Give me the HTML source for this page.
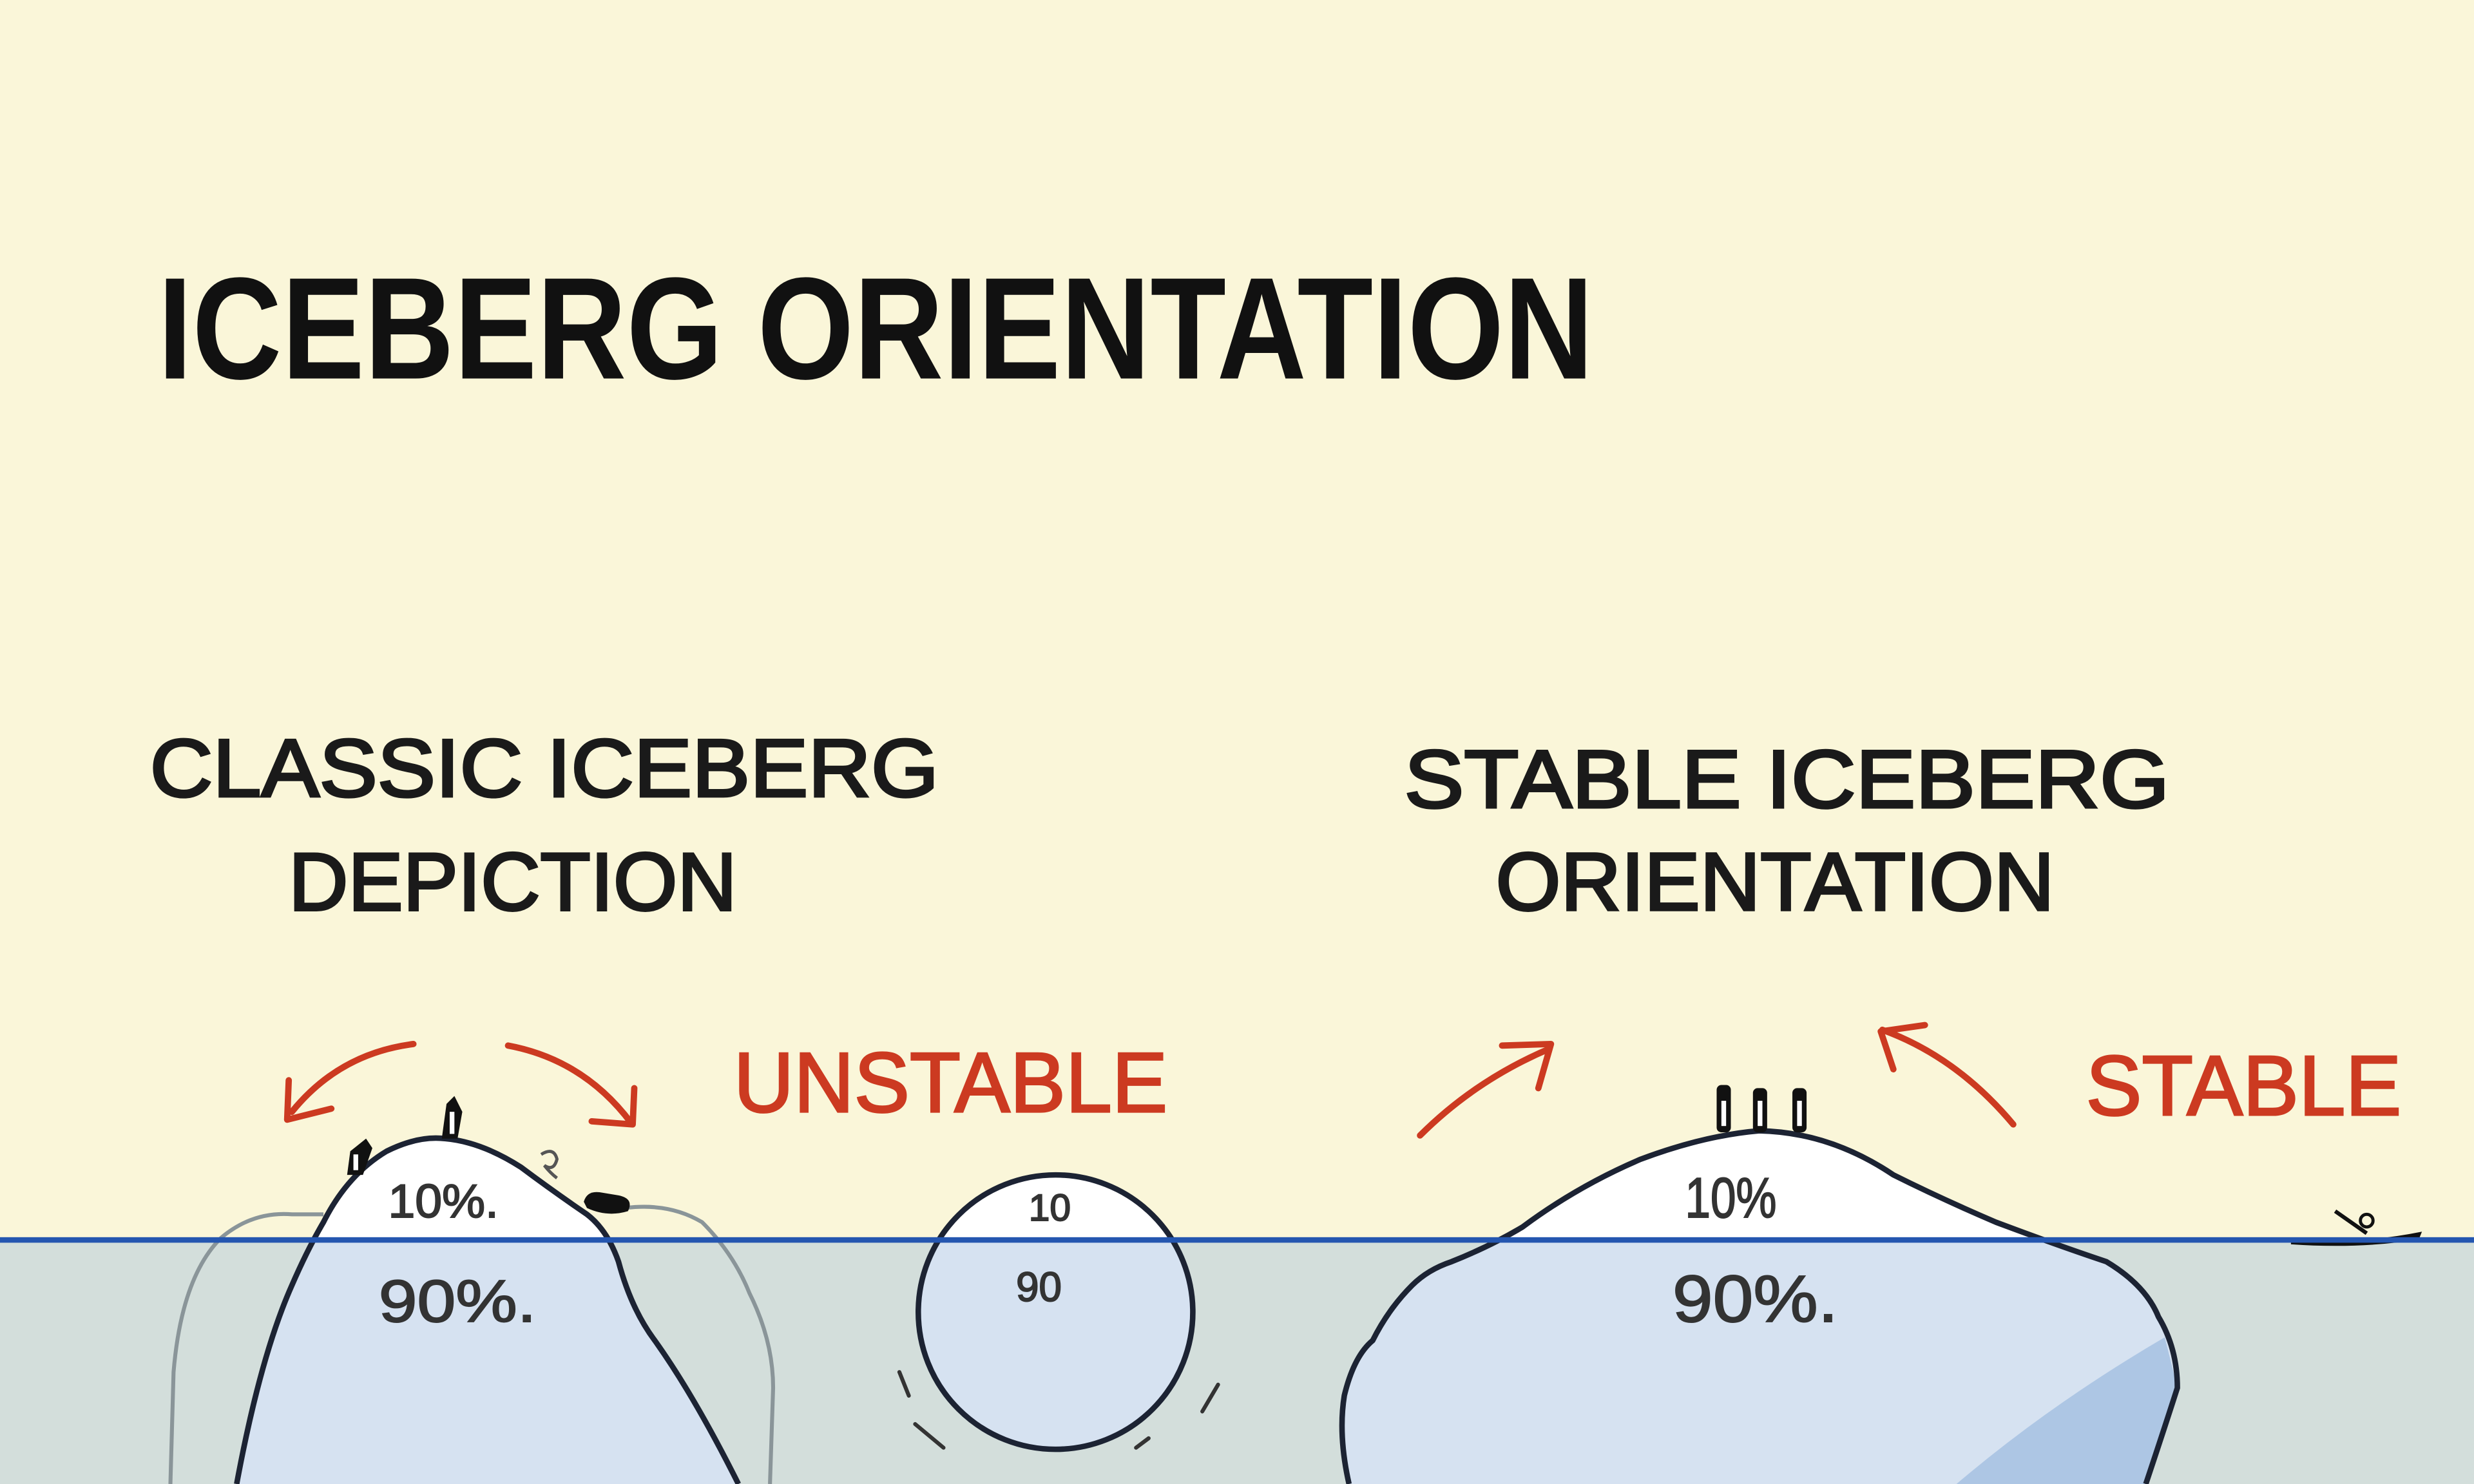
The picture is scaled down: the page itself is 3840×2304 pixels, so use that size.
<!DOCTYPE html>
<html><head><meta charset="utf-8"><style>
html,body{margin:0;padding:0;background:#faf6d9;}
svg{display:block;}
text{font-family:"Liberation Sans",sans-serif;}
</style></head><body>
<svg width="3840" height="2304" viewBox="0 0 1568 941" preserveAspectRatio="none" xmlns="http://www.w3.org/2000/svg">
<rect x="0" y="0" width="1568" height="786" fill="#faf6d9"/>
<rect x="0" y="786" width="1568" height="155" fill="#d3dedb"/>
<defs>
<clipPath id="above"><rect x="0" y="0" width="1568" height="786"/></clipPath>
<clipPath id="below"><rect x="0" y="786" width="1568" height="155"/></clipPath>
</defs>
<text x="100" y="240" font-size="92" font-weight="bold" fill="#111" textLength="910" lengthAdjust="spacingAndGlyphs">ICEBERG ORIENTATION</text>
<g fill="#1a1a1a" stroke="#1a1a1a" stroke-width="1.6">
<text x="95" y="505" font-size="52" textLength="500" lengthAdjust="spacingAndGlyphs">CLASSIC ICEBERG</text>
<text x="183" y="577" font-size="52" textLength="284" lengthAdjust="spacingAndGlyphs">DEPICTION</text>
<text x="890" y="512" font-size="52" textLength="485" lengthAdjust="spacingAndGlyphs">STABLE ICEBERG</text>
<text x="948" y="577" font-size="52" textLength="354" lengthAdjust="spacingAndGlyphs">ORIENTATION</text>
</g>
<g fill="#cc3a21" stroke="#cc3a21" stroke-width="1.2">
<text x="465" y="705" font-size="54" textLength="275" lengthAdjust="spacingAndGlyphs">UNSTABLE</text>
<text x="1322" y="707" font-size="54" textLength="200" lengthAdjust="spacingAndGlyphs">STABLE</text>
</g>

<path d="M108,941 L110,870 Q115,810 140,785 Q160,768 185,770 L205,770 M385,768 Q420,760 445,775 Q465,795 475,820 Q490,850 490,880 L488,941" fill="none" stroke="#8a9599" stroke-width="2.5"/>
<path d="M150,941 Q165,860 185,815 Q195,792 205,775 Q220,745 245,730 Q265,720 282,722 Q305,724 330,740 Q350,755 372,770 Q385,780 392,800 Q400,830 415,850 Q440,885 468,941 Z" fill="#d6e2f1"/>
<g clip-path="url(#above)"><path d="M150,941 Q165,860 185,815 Q195,792 205,775 Q220,745 245,730 Q265,720 282,722 Q305,724 330,740 Q350,755 372,770 Q385,780 392,800 Q400,830 415,850 Q440,885 468,941 Z" fill="#fff"/></g>
<path d="M150,941 Q165,860 185,815 Q195,792 205,775 Q220,745 245,730 Q265,720 282,722 Q305,724 330,740 Q350,755 372,770 Q385,780 392,800 Q400,830 415,850 Q440,885 468,941" fill="none" stroke="#1c2333" stroke-width="3.5"/>
<g fill="#333" stroke="#333" stroke-width="0.8">
<text x="246" y="772" font-size="30" textLength="70" lengthAdjust="spacingAndGlyphs">10%.</text>
<text x="240" y="838" font-size="38" textLength="100" lengthAdjust="spacingAndGlyphs">90%.</text>
</g>
<path d="M220,745 L222,730 L232,722 L236,728 L230,745 Z" fill="#111"/>
<rect x="224" y="732" width="3" height="10" fill="#fff"/>
<path d="M280,722 L283,700 L288,695 L293,705 L290,722 Z" fill="#111"/>
<rect x="285" y="705" width="3" height="14" fill="#fff"/>
<path d="M370,762 Q372,755 380,756 L392,758 Q402,760 398,768 Q385,772 372,766Z" fill="#111"/>
<path d="M343,732 q8,-5 10,3 q-2,8 -8,4 q4,5 8,8" fill="none" stroke="#555" stroke-width="2"/>
<g fill="none" stroke="#cc3a21" stroke-width="4" stroke-linecap="round" stroke-linejoin="round">
<path d="M262,662 Q215,668 185,705"/><path d="M183,685 L182,710 L210,703"/>
<path d="M322,663 Q370,672 400,712"/><path d="M402,690 L401,713 L375,711"/>
<path d="M900,720 Q935,685 982,665"/><path d="M952,663 L983,662 L975,690"/>
<path d="M1276,713 Q1240,670 1193,653"/><path d="M1220,650 L1192,654 L1200,678"/>
</g>
<g clip-path="url(#below)"><circle cx="669" cy="832" r="87" fill="#d6e2f1"/></g>
<g clip-path="url(#above)"><circle cx="669" cy="832" r="87" fill="#fff"/></g>
<circle cx="669" cy="832" r="87" fill="none" stroke="#1c2333" stroke-width="3.5"/>
<g fill="#333" stroke="#333" stroke-width="0.8">
<text x="652" y="774" font-size="24">10</text>
<text x="644" y="825" font-size="26">90</text>
</g>
<g stroke="#333" stroke-width="2.5" stroke-linecap="round"><path d="M570,870 L576,885"/><path d="M580,903 L598,918"/><path d="M772,878 L762,895"/><path d="M728,912 L720,918"/></g>
<path d="M855,941 Q848,910 852,885 Q858,860 870,850 Q880,830 895,815 Q905,805 920,800 Q945,790 965,778 Q1000,752 1040,735 Q1080,720 1115,717 Q1160,718 1200,745 Q1230,760 1265,775 Q1305,790 1335,800 Q1360,815 1368,835 Q1380,855 1380,880 Q1372,905 1360,941 Z" fill="#d6e2f1"/>
<path d="M1240,941 Q1300,890 1372,848 L1380,880 Q1372,905 1360,941 Z" fill="#adc6e4"/>
<g clip-path="url(#above)"><path d="M855,941 Q848,910 852,885 Q858,860 870,850 Q880,830 895,815 Q905,805 920,800 Q945,790 965,778 Q1000,752 1040,735 Q1080,720 1115,717 Q1160,718 1200,745 Q1230,760 1265,775 Q1305,790 1335,800 Q1360,815 1368,835 Q1380,855 1380,880 Q1372,905 1360,941 Z" fill="#fff"/></g>
<path d="M855,941 Q848,910 852,885 Q858,860 870,850 Q880,830 895,815 Q905,805 920,800 Q945,790 965,778 Q1000,752 1040,735 Q1080,720 1115,717 Q1160,718 1200,745 Q1230,760 1265,775 Q1305,790 1335,800 Q1360,815 1368,835 Q1380,855 1380,880 Q1372,905 1360,941" fill="none" stroke="#1c2333" stroke-width="3.5"/>
<g fill="#333" stroke="#333" stroke-width="0.8">
<text x="1068" y="772" font-size="36" textLength="58" lengthAdjust="spacingAndGlyphs">10%</text>
<text x="1060" y="838" font-size="42" textLength="105" lengthAdjust="spacingAndGlyphs">90%.</text>
</g>
<g fill="#111"><rect x="1088" y="688" width="9" height="30" rx="3"/><rect x="1111" y="690" width="9" height="28" rx="3"/><rect x="1136" y="690" width="9" height="28" rx="3"/></g>
<g fill="#fff"><rect x="1091" y="698" width="3" height="16"/><rect x="1114" y="698" width="3" height="16"/><rect x="1139" y="698" width="3" height="16"/></g>
<path d="M1452,785 Q1490,790 1535,781 L1533,786 Q1495,792 1452,789 Z" fill="#111"/>
<circle cx="1500" cy="774" r="4" fill="none" stroke="#111" stroke-width="2"/>
<path d="M1480,768 L1500,782" stroke="#111" stroke-width="2.5"/>
<rect x="0" y="784.5" width="1568" height="3.5" fill="#2456b0"/>
</svg>
</body></html>
